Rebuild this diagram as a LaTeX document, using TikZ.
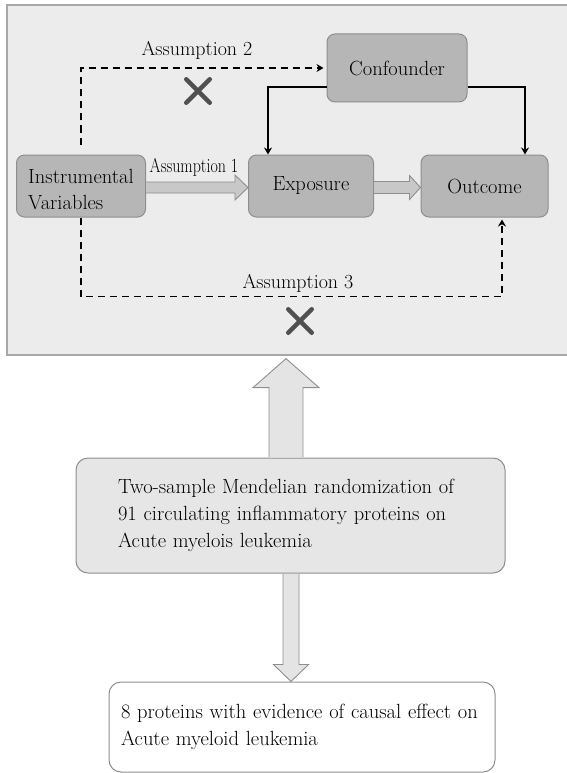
\documentclass[tikz,border=0pt]{standalone}
\usetikzlibrary{calc,arrows.meta,shapes.misc}
\definecolor{panelfill}{HTML}{ECECEC}
\definecolor{paneldraw}{HTML}{A8A8A8}
\definecolor{boxfill}{HTML}{B6B6B6}
\definecolor{boxdraw}{HTML}{8E8E8E}
\definecolor{arrfill}{HTML}{C8C8C8}
\definecolor{bigfill}{HTML}{E4E4E4}
\definecolor{midfill}{HTML}{E6E6E6}
\definecolor{crossgray}{HTML}{505050}
\begin{document}
\begin{tikzpicture}[x=1pt,y=-1pt,
  panelbox/.style={draw=paneldraw,fill=panelfill,line width=1.2pt,minimum width=563pt,minimum height=350pt,inner sep=0pt},
  gbox/.style={draw=boxdraw,fill=boxfill,line width=1pt,rounded corners=8pt,inner sep=0pt,
     font=\fontsize{20.5}{25}\selectfont},
  lbox/.style={draw=boxdraw,line width=1pt,rounded corners=12pt,inner sep=0pt,align=left,
     font=\fontsize{20.5}{27}\selectfont},
  dashline/.style={line width=1.9pt,dash pattern=on 7pt off 5pt,-{Stealth[length=7pt,width=8pt]}},
  solidline/.style={line width=1.8pt,-{Stealth[length=7pt,width=8pt]}},
  hblock/.style={draw=boxdraw,fill=arrfill,line width=0.9pt},
  vblock/.style={draw=boxdraw,fill=bigfill,line width=0.9pt},
  crossmark/.style={cross out,draw=crossgray,line width=4.5pt,line cap=round,minimum size=19pt,inner sep=0pt},
  lbl/.style={font=\fontsize{20}{22}\selectfont,inner sep=0pt}]
\useasboundingbox (0,0) rectangle (566,773);
% panel
\node[panelbox] (panel) at (288.5,180) {};
% boxes
\node[gbox,minimum width=129pt,minimum height=62pt] (iv) at (81,186) {};
\node[font=\fontsize{20.5}{26}\selectfont,align=left,anchor=west,inner sep=0pt] (ivtext) at (28,190) {Instrumental\\Variables};
\node[gbox,minimum width=125pt,minimum height=62pt] (exp) at (311,186) {Exposure};
\node[gbox,minimum width=127pt,minimum height=62pt] (out) at (484.5,186) {Outcome};
\node[gbox,minimum width=140pt,minimum height=68pt] (conf) at (397,68) {Confounder};
% block arrows horizontal
\draw[hblock] let \p1=(iv.east), \p2=(exp.west) in
  (\x1,\y1-1.5pt-5.5pt) -- (\x2-13pt,\y1-1.5pt-5.5pt) -- (\x2-13pt,\y1-1.5pt-12.5pt) -- (\x2,\y1-1.5pt)
  -- (\x2-13pt,\y1-1.5pt+12.5pt) -- (\x2-13pt,\y1-1.5pt+5.5pt) -- (\x1,\y1-1.5pt+5.5pt);
\draw[hblock] let \p1=(exp.east), \p2=(out.west) in
  (\x1,\y1-1.5pt-6pt) -- (\x2-11pt,\y1-1.5pt-6pt) -- (\x2-11pt,\y1-1.5pt-12pt) -- (\x2,\y1-1.5pt)
  -- (\x2-11pt,\y1-1.5pt+12pt) -- (\x2-11pt,\y1-1.5pt+6pt) -- (\x1,\y1-1.5pt+6pt);
\node[lbl,anchor=center] (a1) at (194,167) {\scalebox{0.8}[1]{Assumption 1}};
% confounder arrows
\draw[solidline] ([yshift=-19pt]conf.west) -| ([xshift=-43pt]exp.north);
\draw[solidline] ([yshift=-19pt]conf.east) -| ([xshift=40.5pt]out.north);
% assumption 2
\draw[dashline] ([yshift=10pt]iv.north) |- ([xshift=-3pt]conf.west);
\node[lbl] (a2) at (197,50) {Assumption 2};
\node[crossmark] (x2) at (198,91) {};
% assumption 3
\draw[dashline] (iv.south) -- ++(0,79) -| ([xshift=17.5pt,yshift=-2pt]out.south);
\node[lbl] (a3) at (298,283) {Assumption 3};
\node[crossmark] (x3) at (300,321) {};
% middle and bottom boxes
\node[lbox,fill=midfill,minimum width=429pt,minimum height=115pt,text width=345pt] (mid) at (290.5,515.5)
  {Two-sample Mendelian randomization of\\91 circulating inflammatory proteins on\\Acute myelois leukemia};
\node[lbox,fill=white,minimum width=386pt,minimum height=90pt,text width=362pt] (bot) at (302,727)
  {8 proteins with evidence of causal effect on\\Acute myeloid leukemia};
% big vertical arrows
\draw[vblock] let \p1=([xshift=-4.5pt]mid.north), \p2=(panel.south) in
  (\x1-17pt,\y1+0.5pt) -- (\x1-17pt,\y2-32pt) -- (\x1-33pt,\y2-32pt) -- (\x1,\y2-3pt)
  -- (\x1+33pt,\y2-32pt) -- (\x1+17pt,\y2-32pt) -- (\x1+17pt,\y1+0.5pt);
\draw[vblock] let \p1=([xshift=0.5pt]mid.south), \p2=(bot.north) in
  (\x1-8pt,\y1-0.5pt) -- (\x1-8pt,\y2+17pt) -- (\x1-17.5pt,\y2+17pt) -- (\x1,\y2)
  -- (\x1+17.5pt,\y2+17pt) -- (\x1+8pt,\y2+17pt) -- (\x1+8pt,\y1-0.5pt);
\end{tikzpicture}
\end{document}
